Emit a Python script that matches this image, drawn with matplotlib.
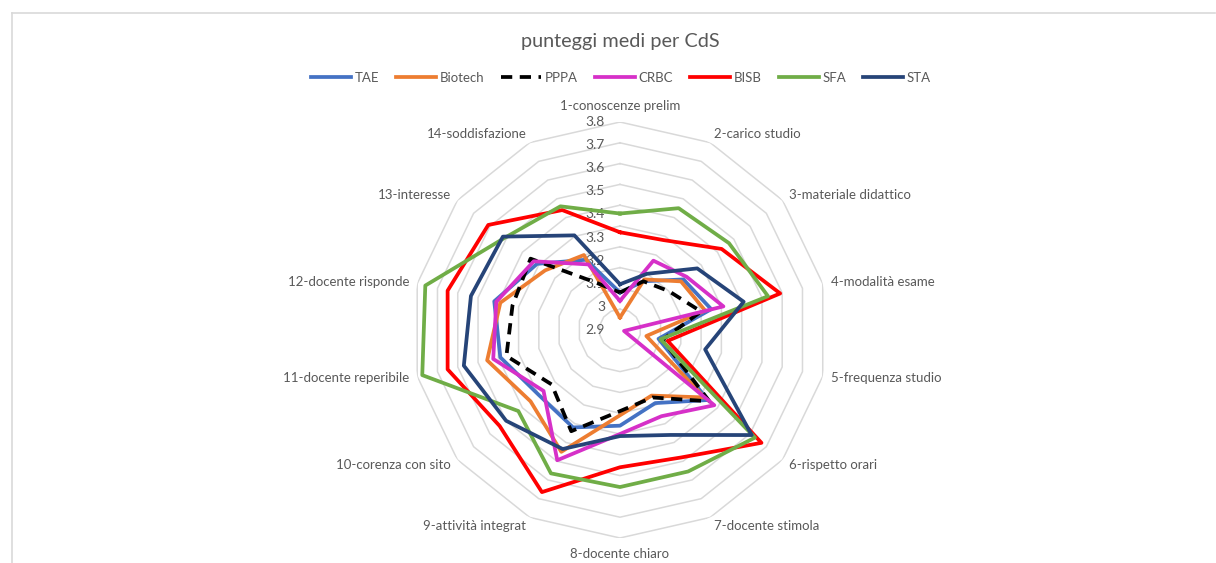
import numpy as np
import matplotlib
matplotlib.use("Agg")
import matplotlib.pyplot as plt

plt.rcParams['font.family'] = ['Lato', 'DejaVu Sans']

categorie = ['1-conoscenze prelim', '2-carico studio', '3-materiale didattico',
             '4-modalità esame', '5-frequenza studio', '6-rispetto orari',
             '7-docente stimola', '8-docente chiaro', '9-attività integrat',
             '10-corenza con sito', '11-docente reperibile', '12-docente risponde',
             '13-interesse', '14-soddisfazione']

TAE = [2.98, 3.06, 3.19, 3.25, 2.99, 3.34, 3.19, 3.26, 3.32, 3.30, 3.39, 3.42, 3.31, 3.175]
Biotech = [2.86, 3.07, 3.175, 3.22, 2.93, 3.32, 3.15, 3.21, 3.45, 3.35, 3.455, 3.39, 3.26, 3.20]
PPPA = [2.98, 3.06, 3.10, 3.20, 3.01, 3.35, 3.16, 3.19, 3.34, 3.22, 3.36, 3.33, 3.35, 3.05]
CRBC = [2.94, 3.17, 3.21, 3.31, 2.82, 3.38, 3.26, 3.30, 3.495, 3.27, 3.425, 3.41, 3.33, 3.15]
BISB = [3.27, 3.28, 3.425, 3.59, 3.035, 3.67, 3.48, 3.46, 3.665, 3.54, 3.65, 3.65, 3.61, 3.44]
SFA = [3.36, 3.45, 3.47, 3.53, 3.00, 3.63, 3.555, 3.555, 3.565, 3.425, 3.775, 3.76, 3.51, 3.46]
STA = [3.02, 3.10, 3.275, 3.41, 3.22, 3.61, 3.36, 3.31, 3.435, 3.50, 3.57, 3.535, 3.52, 3.305]

serie = ['TAE', 'Biotech', 'PPPA', 'CRBC', 'BISB', 'SFA', 'STA']
valori = [TAE, Biotech, PPPA, CRBC, BISB, SFA, STA]
colori = ['#4472C4', '#ED7D31', '#000000', '#D630C8', '#FF0000', '#70AD47', '#264478']

r_min, r_max = 2.8, 3.8
anelli = [2.9, 3.0, 3.1, 3.2, 3.3, 3.4, 3.5, 3.6, 3.7, 3.8]
etichette_r = ['2.9', '3', '3.1', '3.2', '3.3', '3.4', '3.5', '3.6', '3.7', '3.8']

grigio = '#595959'

fig = plt.figure(figsize=(12.16, 5.63), dpi=100)
ax = fig.add_axes([0.3388, 0.0444, 0.3421, 0.7389], polar=True)
ax.set_theta_zero_location('N')
ax.set_theta_direction(-1)
ax.set_ylim(r_min, r_max)
ax.set_xticks([])
ax.set_yticks([])
ax.spines['polar'].set_visible(False)
ax.patch.set_alpha(0)

n = len(categorie)
theta = np.arange(n) * 2 * np.pi / n
theta_c = np.append(theta, theta[0])

# griglia poligonale
for a in anelli:
    ax.plot(theta_c, [a] * (n + 1), color='#D9D9D9', lw=1.1, zorder=1)

# etichette asse valori (come in Excel, distribuite sopra il centro)
for a, lab in zip(anelli, etichette_r):
    pos = r_min + (a - anelli[0]) * (r_max - r_min) / (anelli[-1] - anelli[0])
    ax.annotate(lab, xy=(0, pos), xytext=(-15, 0), textcoords='offset pixels',
                ha='right', va='center', fontsize=10, color=grigio,
                annotation_clip=False, zorder=2)

# etichette categorie
for t, lab in zip(theta, categorie):
    s, c = np.sin(t), np.cos(t)
    extra = 0
    if s > 0.1:
        ha = 'left'
    elif s < -0.1:
        ha = 'right'
    else:
        ha = 'center'
        extra = 7 * np.sign(c)
    ax.annotate(lab, xy=(t, r_max), xytext=(8 * s, 9 * c + extra), textcoords='offset pixels',
                ha=ha, va='center', fontsize=9.5, color=grigio, annotation_clip=False)

for nome, v, col in zip(serie, valori, colori):
    vv = np.append(v, v[0])
    if nome == 'PPPA':
        ax.plot(theta_c, vv, color=col, lw=2.7, linestyle=(0, (3, 2)), label=nome, zorder=3)
    else:
        ax.plot(theta_c, vv, color=col, lw=2.7, label=nome, zorder=3)

fig.text(620 / 1216, 1 - 42 / 563, 'punteggi medi per CdS', ha='center', va='center',
         fontsize=14.3, color=grigio)

handles, labels = ax.get_legend_handles_labels()
fig.legend(handles, labels, loc='center', bbox_to_anchor=(621 / 1216, 1 - 78 / 563),
           ncol=7, frameon=False, fontsize=9.5, handlelength=3.0, handletextpad=0.3,
           columnspacing=1.3, labelcolor=grigio)

# bordo del grafico
fig.add_artist(plt.Line2D([12 / 1216, 1215 / 1216], [1 - 13 / 563, 1 - 13 / 563],
                          transform=fig.transFigure, color='#D9D9D9', lw=1.2))
fig.add_artist(plt.Line2D([12 / 1216, 12 / 1216], [0, 1 - 13 / 563],
                          transform=fig.transFigure, color='#D9D9D9', lw=1.2))

fig.savefig('out.png', dpi=100)
